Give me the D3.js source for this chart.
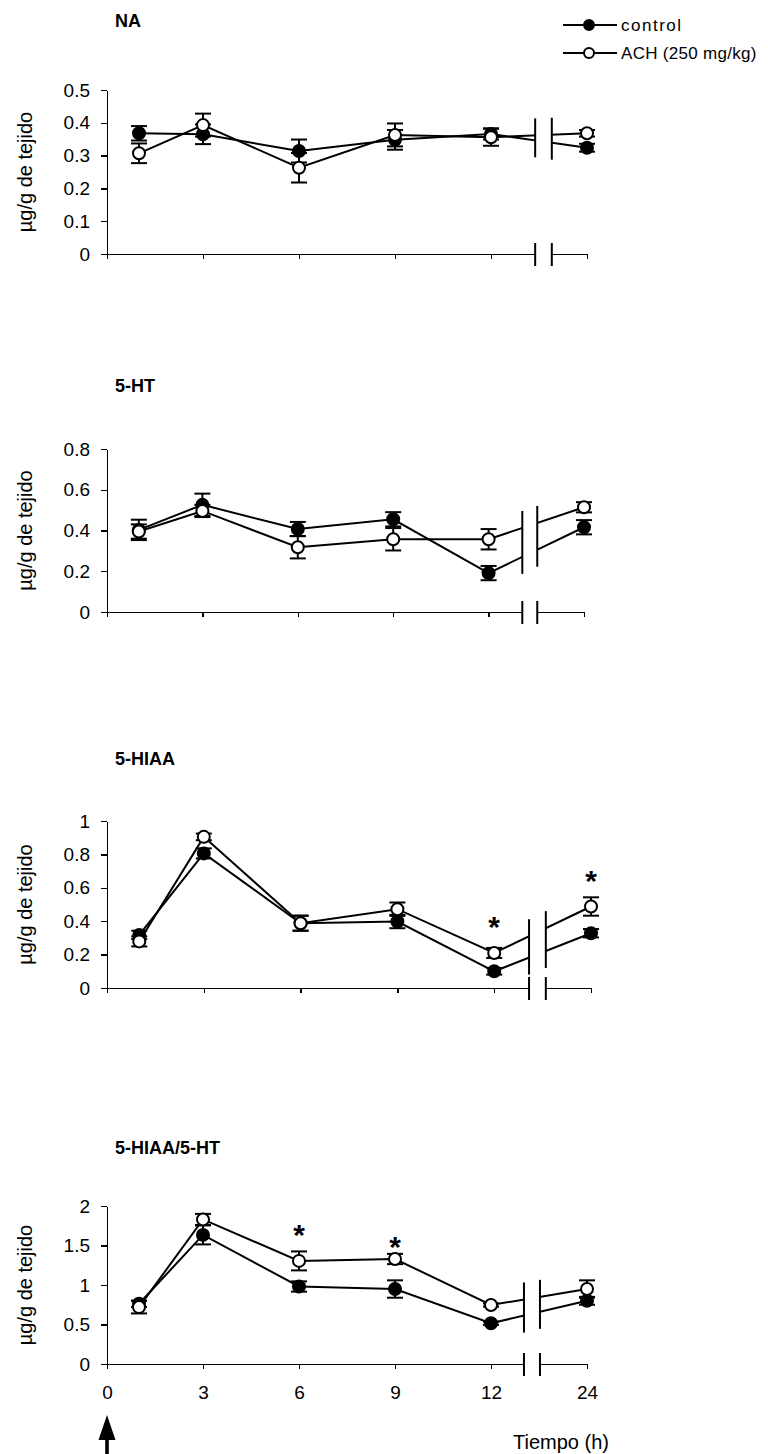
<!DOCTYPE html>
<html>
<head>
<meta charset="utf-8">
<title>NA, 5-HT y 5-HIAA</title>
<script src="https://cdn.jsdelivr.net/npm/d3@7"></script>
<style>
  body { margin: 0; background: #fff; }
  svg text { font-family: "Liberation Sans", Arial, sans-serif; fill: #000; }
  .axis path, .axis line { stroke: #000; stroke-width: 1.3; fill: none; shape-rendering: crispEdges; }
  .axis text { font-family: "Liberation Sans", Arial, sans-serif; font-size: 19px; }
  .title { font-size: 18px; font-weight: bold; }
  .ylab { font-size: 20px; text-anchor: middle; }
  .serie { fill: none; stroke: #000; stroke-width: 2; }
  .err, .brk { stroke: #000; stroke-width: 2; }
  .star { font-size: 30px; font-weight: bold; text-anchor: middle; }
  .leg { font-size: 17px; }
</style>
</head>
<body>
<div id="chart"></div>
<script>
// tiempos (h) y etiquetas del eje x
const times = [1, 3, 6, 9, 12, 24];
const xTickHours = [0, 3, 6, 9, 12, 24];
const xTickLabels = ["0", "3", "6", "9", "12", "24"];

// NA
const naControl = [0.368, 0.365, 0.314, 0.348, 0.366, 0.324];
const naControlErr = [0.022, 0.03, 0.035, 0.03, 0.017, 0.012];
const naAch = [0.307, 0.393, 0.263, 0.363, 0.356, 0.368];
const naAchErr = [0.03, 0.035, 0.045, 0.035, 0.026, 0.01];
const naTicks = [0, 0.1, 0.2, 0.3, 0.4, 0.5];

// 5-HT
const htControl = [0.403, 0.526, 0.407, 0.455, 0.191, 0.416];
const htControlErr = [0.05, 0.055, 0.035, 0.035, 0.035, 0.035];
const htAch = [0.395, 0.496, 0.318, 0.357, 0.357, 0.514];
const htAchErr = [0.035, 0.03, 0.055, 0.055, 0.05, 0.025];
const htTicks = [0, 0.2, 0.4, 0.6, 0.8];

// 5-HIAA
const hiaaControl = [0.318, 0.806, 0.388, 0.398, 0.1, 0.328];
const hiaaControlErr = [0.025, 0.03, 0.045, 0.04, 0.02, 0.025];
const hiaaAch = [0.279, 0.905, 0.388, 0.472, 0.21, 0.488];
const hiaaAchErr = [0.03, 0.02, 0.045, 0.04, 0.03, 0.055];
const hiaaTicks = [0, 0.2, 0.4, 0.6, 0.8, 1];
const hiaaStars = [{ t: 12, v: 0.41 }, { t: 24, v: 0.68 }];

// 5-HIAA/5-HT
const ratioControl = [0.762, 1.634, 0.981, 0.949, 0.515, 0.8];
const ratioControlErr = [0.04, 0.12, 0.065, 0.11, 0.02, 0.05];
const ratioAch = [0.72, 1.83, 1.305, 1.329, 0.747, 0.949];
const ratioAchErr = [0.08, 0.07, 0.12, 0.065, 0.02, 0.11];
const ratioTicks = [0, 0.5, 1, 1.5, 2];
const ratioStars = [{ t: 6, v: 1.72 }, { t: 9, v: 1.57 }];

const panels = [
  { title: "NA", control: naControl, controlErr: naControlErr, ach: naAch, achErr: naAchErr, ticks: naTicks, stars: [] },
  { title: "5-HT", control: htControl, controlErr: htControlErr, ach: htAch, achErr: htAchErr, ticks: htTicks, stars: [] },
  { title: "5-HIAA", control: hiaaControl, controlErr: hiaaControlErr, ach: hiaaAch, achErr: hiaaAchErr, ticks: hiaaTicks, stars: hiaaStars },
  { title: "5-HIAA/5-HT", control: ratioControl, controlErr: ratioControlErr, ach: ratioAch, achErr: ratioAchErr, ticks: ratioTicks, stars: ratioStars }
];

// posicion de cada grafico en la pagina
const layout = [
  { top: 90, bottom: 254, right: 587, titleY: 27, brk: [13.38, 13.9] },
  { top: 449, bottom: 612, right: 584, titleY: 392, brk: [13.06, 13.53] },
  { top: 821, bottom: 988, right: 591, titleY: 765, brk: [13.08, 13.6] },
  { top: 1206, bottom: 1364, right: 587, titleY: 1154, brk: [13.03, 13.53] }
];

const W = 768, H = 1454, left = 107;
// 24 h se dibuja despues del corte, como si fuera 15 h
const pos = t => (t <= 12 ? t : 15);

const svg = d3.select("#chart").append("svg")
  .attr("width", W).attr("height", H);

panels.forEach((p, i) => {
  const L = layout[i];
  const last = i === panels.length - 1;
  const x = d3.scaleLinear().domain([0, 15]).range([left, L.right]);
  const y = d3.scaleLinear().domain([0, d3.max(p.ticks)]).range([L.bottom, L.top]);
  const g = svg.append("g");

  g.append("text").attr("class", "title")
    .attr("x", 115).attr("y", L.titleY).text(p.title);

  g.append("text").attr("class", "ylab")
    .attr("transform", `translate(32,${(L.top + L.bottom) / 2}) rotate(-90)`)
    .text("µg/g de tejido");

  // ejes
  g.append("g").attr("class", "axis")
    .attr("transform", `translate(${left},0)`)
    .call(d3.axisLeft(y).tickValues(p.ticks).tickFormat(d => d)
      .tickSize(6).tickSizeOuter(0).tickPadding(11));

  const xAxis = d3.axisBottom(x)
    .tickValues(xTickHours.map(pos))
    .tickSize(5).tickSizeOuter(0).tickPadding(17)
    .tickFormat((d, k) => (last ? xTickLabels[k] : ""));
  g.append("g").attr("class", "axis")
    .attr("transform", `translate(0,${L.bottom})`)
    .call(xAxis);

  const rows = key => times.map((t, k) => ({ t, v: p[key][k], e: p[key + "Err"][k] }));
  const series = [
    { key: "control", fill: "#000", data: rows("control") },
    { key: "ach", fill: "#fff", data: rows("ach") }
  ];

  const line = d3.line().x(d => x(pos(d.t))).y(d => y(d.v));
  series.forEach(s => g.append("path").attr("class", "serie").attr("d", line(s.data)));

  // corte del eje entre 12 y 24 h
  const xb = L.brk.map(b => x(b));
  g.append("rect")
    .attr("x", xb[0]).attr("y", L.top - 40)
    .attr("width", xb[1] - xb[0]).attr("height", L.bottom - L.top + 43)
    .attr("fill", "#fff");

  L.brk.forEach(b => {
    const f = (b - 12) / 3;
    const ys = series.map(s => y(s.data[4].v + (s.data[5].v - s.data[4].v) * f));
    g.append("line").attr("class", "brk")
      .attr("x1", x(b)).attr("x2", x(b))
      .attr("y1", d3.min(ys) - 17).attr("y2", d3.max(ys) + 17);
    g.append("line").attr("class", "brk")
      .attr("x1", x(b)).attr("x2", x(b))
      .attr("y1", L.bottom - 11).attr("y2", L.bottom + 12);
  });

  // barras de error y puntos
  series.forEach(s => {
    const eg = g.append("g");
    s.data.forEach(d => {
      const cx = x(pos(d.t)), y1 = y(d.v - d.e), y2 = y(d.v + d.e);
      eg.append("line").attr("class", "err").attr("x1", cx).attr("x2", cx).attr("y1", y1).attr("y2", y2);
      eg.append("line").attr("class", "err").attr("x1", cx - 8).attr("x2", cx + 8).attr("y1", y1).attr("y2", y1);
      eg.append("line").attr("class", "err").attr("x1", cx - 8).attr("x2", cx + 8).attr("y1", y2).attr("y2", y2);
    });
  });
  series.forEach(s => {
    g.append("g").selectAll("circle").data(s.data).join("circle")
      .attr("cx", d => x(pos(d.t))).attr("cy", d => y(d.v))
      .attr("r", 6)
      .attr("fill", s.fill).attr("stroke", "#000").attr("stroke-width", 2);
  });

  g.selectAll(".star").data(p.stars).join("text")
    .attr("class", "star")
    .attr("x", d => x(pos(d.t))).attr("y", d => y(d.v) + 17)
    .text("*");

  if (last) {
    const ax = x(0);
    g.append("path")
      .attr("d", `M${ax},1415 L${ax + 8.5},1440 L${ax + 1.8},1440 L${ax + 1.8},1454 L${ax - 1.8},1454 L${ax - 1.8},1440 L${ax - 8.5},1440 Z`)
      .attr("fill", "#000");
    g.append("text")
      .attr("x", 561).attr("y", 1449)
      .attr("text-anchor", "middle")
      .style("font-size", "20px")
      .text("Tiempo (h)");
  }
});

// leyenda
const legendItems = [
  { label: "control", fill: "#000", spacing: 1.5 },
  { label: "ACH (250 mg/kg)", fill: "#fff", spacing: 0.3 }
];
const leg = svg.append("g").attr("transform", "translate(563,25)");
legendItems.forEach((it, k) => {
  const row = leg.append("g").attr("transform", `translate(0,${k * 28})`);
  row.append("line").attr("x1", 0).attr("x2", 54).attr("stroke", "#000").attr("stroke-width", 2);
  row.append("circle").attr("cx", 26).attr("r", 5)
    .attr("fill", it.fill).attr("stroke", "#000").attr("stroke-width", 2);
  row.append("text").attr("class", "leg")
    .attr("x", 58).attr("dy", "0.35em")
    .style("letter-spacing", it.spacing + "px")
    .text(it.label);
});
</script>
</body>
</html>
